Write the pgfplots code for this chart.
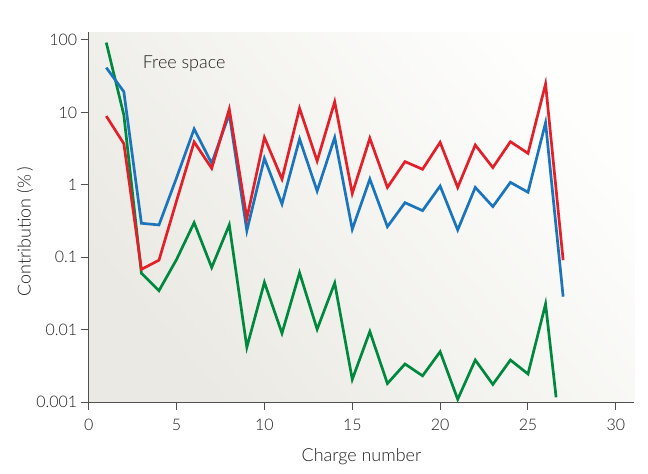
\documentclass[border=0pt]{standalone}
\usepackage{fontspec}
\setmainfont{Lato Light}
\usepackage{pgfplots}
\pgfplotsset{compat=1.18}
\definecolor{cred}{HTML}{E2202A}
\definecolor{cblue}{HTML}{1B75BC}
\definecolor{cgreen}{HTML}{00893E}
\definecolor{axgray}{HTML}{505050}
\definecolor{txtgray}{HTML}{1E1E1E}
\definecolor{bgdark}{HTML}{EAE9E3}
\definecolor{bglight}{HTML}{FEFEFD}
\begin{document}
\begin{tikzpicture}
\begin{axis}[
  scale only axis,
  width=545.6bp, height=369.7bp,
  xmin=0, xmax=31.05,
  ymode=log, ymin=0.001, ymax=127.7,
  axis lines*=left,
  axis line style={draw=axgray, line width=1bp},
  tick style={draw=axgray, line width=1bp},
  tick align=outside,
  major tick length=8bp,
  minor tick length=0pt,
  xtick={0,5,...,30},
  ytick={0.001,0.01,0.1,1,10,100},
  yticklabels={0.001,0.01,0.1,1,10,100},
  /pgf/number format/assume math mode=true,
  ticklabel style={font=\fontsize{16}{18}\selectfont, text=txtgray},
  xticklabel style={yshift=-6bp},
  xlabel={Charge number},
  ylabel={Contribution (\%\,)},
  xlabel style={at={(axis description cs:0.5,0)}, anchor=base, yshift=-59bp, font=\fontsize{18}{20}\selectfont, text=txtgray},
  ylabel style={at={(axis description cs:-0.117,0.46)}, anchor=center, font=\fontsize{18}{20}\selectfont, text=txtgray},
  axis background/.style={shade, top color=bglight, bottom color=bgdark, shading angle=-50},
  clip=false,
  every axis plot/.append style={line width=2.7bp, line join=miter, mark=none},
]
\addplot[cgreen] coordinates {
(1,92) (2,9.2) (3,0.06) (4,0.0345) (5,0.093) (6,0.3) (7,0.072) (8,0.28)
(9,0.0057) (10,0.045) (11,0.0089) (12,0.061) (13,0.0101) (14,0.044)
(15,0.00205) (16,0.0094) (17,0.0018) (18,0.00335) (19,0.0023) (20,0.00495)
(21,0.00109) (22,0.0038) (23,0.00175) (24,0.0038) (25,0.00244) (26,0.0226) (26.6,0.00116)
};
\addplot[cblue] coordinates {
(1,41.5) (2,19.3) (3,0.294) (4,0.279) (5,1.25) (6,5.9) (7,1.98) (8,9.5)
(9,0.232) (10,2.32) (11,0.543) (12,4.3) (13,0.82) (14,4.5) (15,0.243)
(16,1.2) (17,0.264) (18,0.566) (19,0.44) (20,0.96) (21,0.238) (22,0.92)
(23,0.5) (24,1.08) (25,0.79) (26,7.2) (27,0.0285)
};
\addplot[cred] coordinates {
(1,8.9) (2,3.7) (3,0.068) (4,0.091) (5,0.6) (6,3.9) (7,1.69) (8,11.1)
(9,0.344) (10,4.5) (11,1.2) (12,11.4) (13,2.13) (14,14) (15,0.76)
(16,4.4) (17,0.92) (18,2.09) (19,1.64) (20,3.86) (21,0.92) (22,3.55)
(23,1.73) (24,3.94) (25,2.72) (26,24.7) (27,0.091)
};
\node[anchor=base west, inner sep=0pt, font=\fontsize{18}{20}\selectfont, text=txtgray] at (axis cs:3.07,40.6) {Free space};
\coordinate (sw) at (rel axis cs:0,0);
\end{axis}
\pgfresetboundingbox
\path (sw) ++(-88.7bp,-72bp) rectangle ++(648bp,474bp);
\end{tikzpicture}
\end{document}
